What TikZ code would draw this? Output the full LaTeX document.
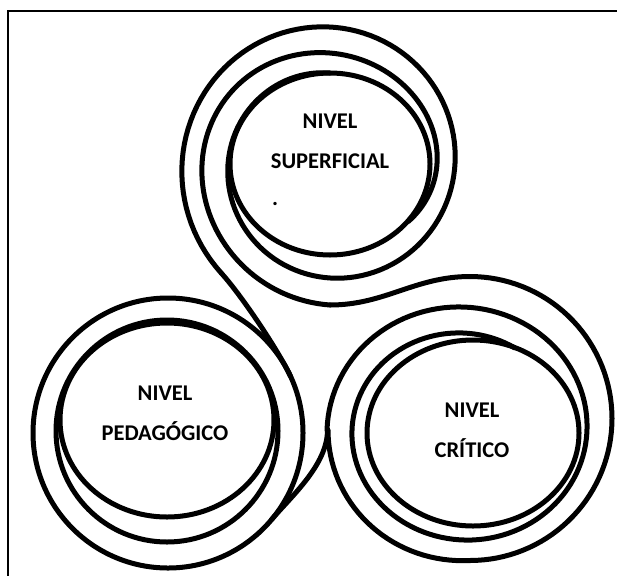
\documentclass[tikz,border=0pt]{standalone}
\usepackage{fontspec}
\setmainfont{Carlito}
\tikzset{
  ring/.style={line width=1.25mm, line cap=round},
  lbl/.style={align=center, inner sep=0pt, font=\bfseries\fontsize{16}{28.5}\selectfont},
  frame/.style={line width=0.5mm}
}
\begin{document}
\begin{tikzpicture}[x=0.25mm,y=-0.25mm]
\useasboundingbox (0,0) rectangle (617,576);
\draw[frame] (617,11) -- (8,11) -- (8,576);

\draw[ring] (330,164) ellipse [x radius=100, y radius=91];
\draw[ring] plot[domain=135:630, samples=160, variable=\t] ({330+(148-0.1278*(\t-180))*cos(\t)}, {164+(137-0.1278*(\t-270))*sin(\t)});
\draw[ring] plot[domain=90:400, samples=120, variable=\t] ({330+(138.5-0.1167*(\t-90))*cos(\t)}, {164+(141-0.1667*(\t-90))*sin(\t)});

\draw[ring] (167,420) ellipse [x radius=107, y radius=97];
\draw[ring] (167,431) circle [radius=111];
\draw[ring] (168,433) circle [radius=135];

\draw[ring] (473,433) ellipse [x radius=106, y radius=93];
\draw[ring] plot[domain=270:540, samples=100, variable=\t] ({470+142*cos(\t)}, {418.5+142*sin(\t)+11.5*max(0,(\t-450)/90)});
\draw[ring] plot[domain=540:1020, samples=160, variable=\t] ({463.25+(136.25-0.0694*(\t-540))*cos(\t)}, {430+(123-0.0722*(\t-630))*sin(\t)});

\coordinate (a1) at (221.3,273.1);
\coordinate (a2) at (290.4,376);
\coordinate (c1) at (330,305);
\coordinate (c2) at (470,276.5);
\coordinate (d1) at (271.4,519.8);
\coordinate (d2) at (327.5,430);
\draw[ring] (a1) .. controls (241.4,295.3) and (277.3,348.8) .. (a2);
\draw[ring] (c1) .. controls (385,305) and (415,276.5) .. (c2);
\draw[ring] (d1) .. controls (290.7,496.8) and (327.5,465) .. (d2);

\node[lbl] (sup) at (330,141.5) {NIVEL\\SUPERFICIAL};
\node[lbl] (ped) at (165,413.5) {NIVEL\\PEDAG\'OGICO};
\node[lbl] (cri) at (472,430) {NIVEL\\CR\'ITICO};
\node[lbl] (pt) at (275,204) {.};
\end{tikzpicture}
\end{document}
